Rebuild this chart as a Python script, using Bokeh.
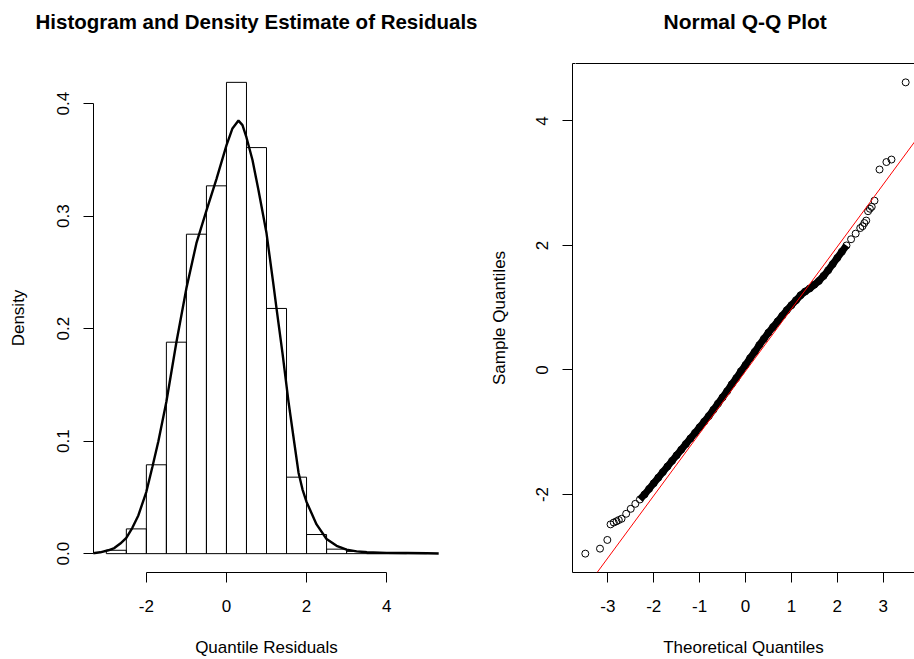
from bokeh.plotting import figure
from bokeh.layouts import row
from bokeh.models import LinearAxis, FixedTicker, PrintfTickFormatter, Range1d, Slope
from bokeh.embed import file_html
from bokeh.resources import INLINE

FONT = "Liberation Sans"

# ---------------- data ----------------
hist_left = [-3.0, -2.5, -2.0, -1.5, -1.0, -0.5, 0.0, 0.5, 1.0, 1.5, 2.0, 2.5, 3.0, 3.5, 4.0, 4.5]
hist_right = [-2.5, -2.0, -1.5, -1.0, -0.5, 0.0, 0.5, 1.0, 1.5, 2.0, 2.5, 3.0, 3.5, 4.0, 4.5, 5.0]
hist_density = [0.003, 0.022, 0.079, 0.188, 0.284, 0.327, 0.419, 0.361, 0.218, 0.068,
                0.017, 0.004, 0.002, 0.0, 0.0, 0.001]

density_x = [-3.35, -3.15, -2.95, -2.8, -2.65, -2.5, -2.35, -2.2, -2.0, -1.85, -1.7, -1.5,
             -1.25, -1.0, -0.75, -0.5, -0.25, 0.0, 0.15, 0.3, 0.4, 0.5, 0.65, 0.8, 1.0,
             1.17, 1.25, 1.4, 1.55, 1.7, 1.8, 1.9, 2.0, 2.25, 2.5, 2.75, 3.0, 3.25, 3.5,
             4.0, 4.5, 5.0, 5.3]
density_y = [0.0003, 0.0012, 0.003, 0.005, 0.009, 0.014, 0.023, 0.034, 0.055, 0.077, 0.100, 0.135,
             0.188, 0.236, 0.276, 0.305, 0.333, 0.363, 0.378, 0.385, 0.381, 0.370, 0.350, 0.323, 0.285,
             0.240, 0.218, 0.178, 0.135, 0.097, 0.072, 0.057, 0.046, 0.026, 0.013, 0.007, 0.0036, 0.002, 0.0012,
             0.0007, 0.0006, 0.0004, 0.0001]

qq_theoretical = [-3.49, -3.17, -3.01, -2.94, -2.87, -2.81, -2.76,
                  -2.7, -2.6, -2.5, -2.4, -2.3, -2.2, -2.1, -2.0, -1.9, -1.8, -1.7, -1.6, -1.5,
                  -1.4, -1.3, -1.2, -1.1, -1.0, -0.9, -0.8, -0.7, -0.6, -0.5, -0.4, -0.3, -0.2,
                  -0.1, 0.0, 0.1, 0.2, 0.3, 0.4, 0.5, 0.6, 0.7, 0.8, 0.9, 1.0, 1.1, 1.2, 1.3,
                  1.4, 1.5, 1.6, 1.7, 1.8, 1.9, 2.0, 2.1, 2.2, 2.3, 2.4, 2.5,
                  2.55, 2.59, 2.63, 2.67, 2.71, 2.75, 2.81, 2.92, 3.07, 3.18, 3.49]
qq_sample = [-2.95, -2.87, -2.73, -2.48, -2.45, -2.43, -2.41,
             -2.39, -2.31, -2.23, -2.15, -2.08, -2.00, -1.91, -1.82, -1.73, -1.64, -1.55, -1.46, -1.37,
             -1.28, -1.19, -1.10, -1.01, -0.92, -0.83, -0.74, -0.64, -0.54, -0.44, -0.34, -0.23, -0.13,
             -0.02, 0.08, 0.19, 0.29, 0.40, 0.50, 0.60, 0.69, 0.78, 0.87, 0.96, 1.04, 1.12, 1.20, 1.26,
             1.31, 1.37, 1.43, 1.51, 1.60, 1.70, 1.80, 1.90, 2.00, 2.10, 2.19, 2.28,
             2.31, 2.36, 2.40, 2.55, 2.59, 2.62, 2.72, 3.22, 3.34, 3.38, 4.62]
qq_line_slope = 1.0
qq_line_intercept = -0.02

hist_xticks = [-2, 0, 2, 4]
hist_yticks = [0.0, 0.1, 0.2, 0.3, 0.4]
qq_xticks = [-3, -2, -1, 0, 1, 2, 3]
qq_yticks = [-2, 0, 2, 4]


def style_axis(ax, ticks, fmt, vertical=False, tick_standoff=17, label_standoff=23):
    ax.ticker = FixedTicker(ticks=ticks)
    ax.formatter = PrintfTickFormatter(format=fmt)
    ax.minor_tick_line_color = None
    ax.major_tick_in = 0
    ax.major_tick_out = 10
    ax.major_tick_line_color = "black"
    ax.major_tick_line_width = 1
    ax.axis_line_color = "black"
    ax.axis_line_width = 1
    ax.major_label_text_font = FONT
    ax.major_label_text_font_size = "17px"
    ax.major_label_text_color = "black"
    ax.major_label_standoff = tick_standoff
    ax.axis_label_text_font = FONT
    ax.axis_label_text_font_size = "17px"
    ax.axis_label_text_font_style = "normal"
    ax.axis_label_text_color = "black"
    ax.axis_label_standoff = label_standoff
    if vertical:
        ax.major_label_orientation = "vertical"


def style_title(p, size, offset):
    p.title.text_font = FONT
    p.title.text_font_size = size
    p.title.text_font_style = "bold"
    p.title.text_color = "black"
    p.title.align = "left"
    p.title.offset = offset
    p.title.standoff = 0


def top_spacer(line_color, at):
    # blank axis above the frame (one white tick, no label): reserves the gap under the title
    return LinearAxis(ticker=FixedTicker(ticks=[at]), major_tick_out=31, major_tick_in=0,
                      major_label_standoff=0, axis_label_standoff=0,
                      major_label_overrides={at: ""}, major_label_text_font_size="1px",
                      minor_tick_out=0, minor_tick_line_color=None,
                      major_tick_line_color="white", axis_line_color=line_color)


# ---------------- left: histogram + density ----------------
p1 = figure(width=483, height=659, output_backend="svg", toolbar_location=None,
            x_range=Range1d(-3.32, 5.32), y_range=Range1d(-0.01676, 0.43576),
            title="Histogram and Density Estimate of Residuals",
            x_axis_label="Quantile Residuals", y_axis_label="Density",
            min_border_left=93, min_border_right=44, min_border_top=63, min_border_bottom=86)
p1.grid.visible = False
p1.outline_line_color = None
x1 = p1.below[0]
y1 = p1.left[0]
style_title(p1, "20.5px", -58)
style_axis(x1, hist_xticks, "%d")
x1.bounds = (min(hist_xticks), max(hist_xticks))
style_axis(y1, hist_yticks, "%.1f", vertical=True, tick_standoff=14, label_standoff=27)
y1.bounds = (min(hist_yticks), max(hist_yticks))
p1.add_layout(top_spacer(None, 5.3), "above")

p1.quad(left=hist_left, right=hist_right, bottom=0, top=hist_density,
        fill_color=None, line_color="black", line_width=1)
p1.line(density_x, density_y, line_color="black", line_width=2.4)

# ---------------- right: normal Q-Q plot ----------------
p2 = figure(width=431, height=659, output_backend="svg", toolbar_location=None,
            x_range=Range1d(-3.769, 3.682), y_range=Range1d(-3.253, 4.923),
            title="Normal Q-Q Plot",
            x_axis_label="Theoretical Quantiles", y_axis_label="Sample Quantiles",
            min_border_left=89, min_border_right=0, min_border_top=63, min_border_bottom=86)
p2.grid.visible = False
p2.outline_line_color = None
x2 = p2.below[0]
y2 = p2.left[0]
style_title(p2, "21px", 91)
style_axis(x2, qq_xticks, "%d")
style_axis(y2, qq_yticks, "%d", vertical=True, tick_standoff=14, label_standoff=25)
p2.add_layout(top_spacer("black", -3.7), "above")

dense = [i for i, t in enumerate(qq_theoretical) if -2.35 <= t <= 2.25]
p2.line([qq_theoretical[i] for i in dense], [qq_sample[i] for i in dense],
        line_color="black", line_width=7)
p2.scatter(qq_theoretical, qq_sample, marker="circle", size=7,
           fill_color=None, line_color="black", line_width=1)
p2.add_layout(Slope(gradient=qq_line_slope, y_intercept=qq_line_intercept,
                    line_color="red", line_width=1))

layout = row(p1, p2, spacing=0)
open("out.html", "w").write(file_html(layout, INLINE))
